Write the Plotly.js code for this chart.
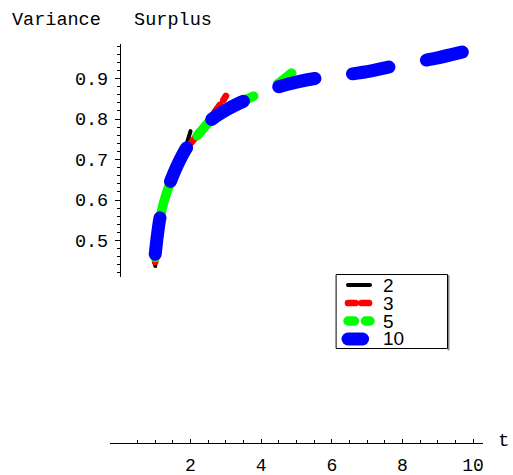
<!DOCTYPE html>
<html>
<head>
<meta charset="utf-8">
<script src="https://cdn.plot.ly/plotly-3.0.1.min.js"></script>
<style>
  html, body { margin: 0; padding: 0; background: #fff; }
  #chart { width: 513px; height: 475px; }
  path.js-line, .shapelayer path { stroke-linecap: round !important; stroke-linejoin: round !important; }
</style>
</head>
<body>
<div id="chart"></div>
<script>
// ---- data ----
const seriesNames = ['2', '3', '5', '10'];

const t2 = [1.00, 1.05, 1.13, 1.25, 1.42, 1.65, 1.80, 1.90, 2.00];
const v2 = [0.437, 0.498, 0.548, 0.594, 0.640, 0.688, 0.722, 0.742, 0.770];

const t3 = [1.00, 1.13, 1.25, 1.42, 1.65, 1.89, 2.08, 2.20, 2.50, 2.74, 2.90, 3.00];
const v3 = [0.447, 0.551, 0.596, 0.641, 0.688, 0.727, 0.748, 0.762, 0.795, 0.824, 0.843, 0.857];

const t5 = [1.00, 1.13, 1.25, 1.42, 1.65, 1.89, 2.22, 2.60, 3.00, 3.45, 3.80, 4.20, 4.50, 4.84, 5.00];
const v5 = [0.458, 0.552, 0.597, 0.642, 0.689, 0.728, 0.762, 0.799, 0.822, 0.843, 0.857, 0.874, 0.889, 0.912, 0.921];

const t10 = [1.00, 1.05, 1.13, 1.25, 1.42, 1.65, 1.89, 2.20, 2.60, 3.00, 3.45, 4.00, 4.48, 5.00, 5.52, 6.00, 6.54, 7.00, 7.60, 8.00, 8.59, 9.00, 9.68, 10.00];
const v10 = [0.466, 0.505, 0.554, 0.598, 0.643, 0.690, 0.729, 0.764, 0.799, 0.822, 0.842, 0.862, 0.879, 0.891, 0.900, 0.905, 0.911, 0.917, 0.928, 0.934, 0.944, 0.951, 0.965, 0.972];

const xTickVals = [2, 4, 6, 8, 10];
const xMinorVals = [0.5, 1, 1.5, 2.5, 3, 3.5, 4.5, 5, 5.5, 6.5, 7, 7.5, 8.5, 9, 9.5, 10];

// ---- styling ----
const colors = ['#000000', '#ff0000', '#00ff00', '#0000ff'];
const widths = [4, 6.7, 9.5, 13];
const dashes = ['solid', '30px,6px', '17px,27px,60px,27px,70px,27px,18px,200px', '37px,38px'];
const legendDashes = ['solid', '7.5px,6px', '6.5px,11px', '14.6px,30px'];

const mono = 'Liberation Mono, Courier New, monospace';
const sans = 'Liberation Sans, Arial, sans-serif';

// plot-area geometry in pixels
const L = 110, R = 483, T = 38, B = 443;
const W = R - L, H = B - T;
const px = x => (x - L) / W;
const py = y => (B - y) / H;

const ts = [t2, t3, t5, t10];
const vs = [v2, v3, v5, v10];
const traces = seriesNames.map((n, i) => ({
  type: 'scatter', mode: 'lines', name: n,
  x: ts[i], y: vs[i],
  line: { color: colors[i], width: widths[i], dash: dashes[i], shape: 'spline', smoothing: 0.6 },
  hoverinfo: 'skip', showlegend: false
}));

const shapes = [];
const annotations = [];
// legend box with small shadow
shapes.push({ type: 'line', xref: 'paper', yref: 'paper', x0: px(448.5), x1: px(448.5), y0: py(276), y1: py(349.5), line: { color: '#888', width: 2 } });
shapes.push({ type: 'rect', xref: 'paper', yref: 'paper', x0: px(336.5), x1: px(447.5), y0: py(274.5), y1: py(348.5), line: { color: '#000', width: 1 }, fillcolor: 'rgba(0,0,0,0)' });
const rowY = [285, 303, 321, 339];
seriesNames.forEach((n, i) => {
  shapes.push({ type: 'line', xref: 'paper', yref: 'paper', x0: px(348), x1: px(370), y0: py(rowY[i]), y1: py(rowY[i]),
    line: { color: colors[i], width: widths[i], dash: legendDashes[i] } });
  annotations.push({ xref: 'paper', yref: 'paper', x: px(382), y: py(rowY[i]), xanchor: 'left', yanchor: 'middle',
    text: n, showarrow: false, height: 15, borderpad: 0, valign: 'middle',
    font: { family: sans, size: 19, color: '#000' } });
});
// axis label t
annotations.push({ xref: 'paper', yref: 'paper', x: px(496), y: py(441), xanchor: 'left', yanchor: 'middle',
  text: 't', showarrow: false, font: { family: mono, size: 19, color: '#000' } });

const layout = {
  width: 513, height: 475,
  margin: { l: L, r: 513 - R, t: T, b: 475 - B, pad: 0 },
  paper_bgcolor: '#fff', plot_bgcolor: 'rgba(0,0,0,0)',
  showlegend: false,
  title: { text: 'Variance\u00a0\u00a0\u00a0Surplus', xref: 'container', yref: 'container', x: 12 / 513, xanchor: 'left',
    y: 1 - 19 / 475, yanchor: 'middle', pad: { t: 0, b: 0, l: 0, r: 0 },
    font: { family: mono, size: 18.5, color: '#000' } },
  xaxis: {
    range: [-0.28, 10.28], domain: [0, 1], anchor: 'free', position: 0,
    showline: true, linecolor: '#000', linewidth: 1, showgrid: false, zeroline: false,
    tickmode: 'array', tickvals: xTickVals, ticks: 'inside', ticklen: 4, tickcolor: '#000', tickwidth: 1,
    minor: { tickmode: 'array', tickvals: xMinorVals, ticks: 'inside', ticklen: 3, tickcolor: '#000', tickwidth: 1, showgrid: false },
    tickfont: { family: mono, size: 18, color: '#000' }, ticklabelstandoff: 5
  },
  yaxis: {
    range: [0.41, 0.986], domain: [0.41, 0.986], anchor: 'free', position: 0.28 / 10.56,
    showline: true, linecolor: '#000', linewidth: 1, showgrid: false, zeroline: false,
    tickmode: 'linear', tick0: 0, dtick: 0.1, tickformat: '.1f', ticks: 'outside', ticklen: 5, tickcolor: '#000', tickwidth: 1,
    minor: { tickmode: 'linear', tick0: 0, dtick: 0.02, ticks: 'outside', ticklen: 3, tickcolor: '#000', tickwidth: 1, showgrid: false },
    tickfont: { family: mono, size: 18.5, color: '#000' }, ticklabelstandoff: 3
  },
  shapes: shapes,
  annotations: annotations
};

Plotly.newPlot('chart', traces, layout, { displayModeBar: false, staticPlot: true });
</script>
</body>
</html>
